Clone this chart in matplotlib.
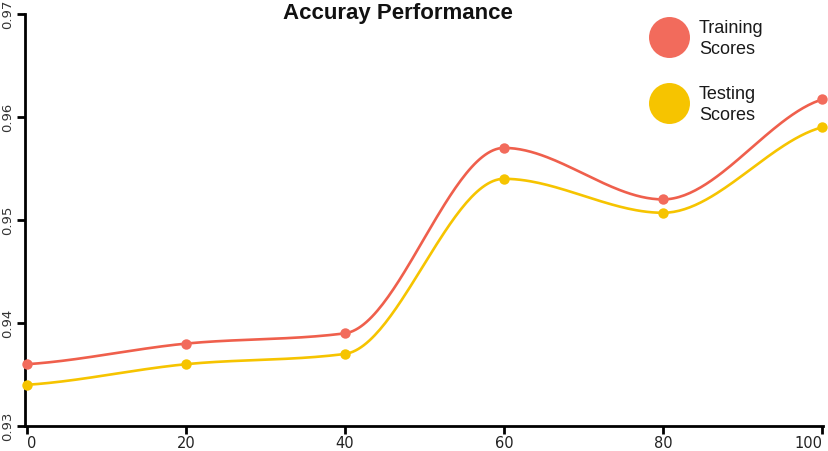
"""
Accuracy curve for training vs testing scores, smoothed lines with
point markers and a big-dot legend in the top right corner.
"""
import numpy as np
import matplotlib
matplotlib.use("Agg")
import matplotlib.pyplot as plt

epochs = [0, 20, 40, 60, 80, 100]
training_scores = [0.936, 0.938, 0.939, 0.957, 0.952, 0.9617]
testing_scores = [0.934, 0.936, 0.937, 0.954, 0.9507, 0.959]

y_ticks = [0.93, 0.94, 0.95, 0.96, 0.97]
x_ticks = [0, 20, 40, 60, 80, 100]

title = "Accuray Performance"
series_labels = ["Training\nScores", "Testing\nScores"]

RED = "#EF5F4C"
RED_DOT = "#F26B5C"
YELLOW = "#F6C400"


def smooth(xs, ys, steps=60):
    """Monotone-style cubic through the points (flat at local extremes)."""
    xs = np.asarray(xs, float)
    ys = np.asarray(ys, float)
    h = np.diff(xs)
    s = np.diff(ys) / h
    t = np.zeros_like(ys)
    for i in range(1, len(xs) - 1):
        s0, s1 = s[i - 1], s[i]
        p = (s0 * h[i] + s1 * h[i - 1]) / (h[i - 1] + h[i])
        t[i] = (np.sign(s0) + np.sign(s1)) * min(abs(s0), abs(s1), 0.5 * abs(p))
    t[0] = 0.5 * s[0]
    t[-1] = 0.5 * s[-1]

    out_x, out_y = [], []
    u = np.linspace(0, 1, steps)
    for i in range(len(xs) - 1):
        h00 = 2 * u**3 - 3 * u**2 + 1
        h10 = u**3 - 2 * u**2 + u
        h01 = -2 * u**3 + 3 * u**2
        h11 = u**3 - u**2
        seg_y = h00 * ys[i] + h10 * h[i] * t[i] + h01 * ys[i + 1] + h11 * h[i] * t[i + 1]
        out_x.extend(xs[i] + u * h[i])
        out_y.extend(seg_y)
    return np.array(out_x), np.array(out_y)


W, H = 829, 451
fig = plt.figure(figsize=(W / 100, H / 100), dpi=100)
ax = fig.add_axes([25 / W, 1 - 426 / H, (823 - 25) / W, (426 - 14) / H])

for scores, line_c, dot_c in [(training_scores, RED, RED_DOT), (testing_scores, YELLOW, YELLOW)]:
    sx, sy = smooth(epochs, scores)
    ax.plot(sx, sy, color=line_c, lw=1.9, solid_capstyle="round", zorder=2)
    ax.plot(epochs, scores, "o", color=dot_c, ms=7.5, mec="none", zorder=3, clip_on=False)

ax.set_xlim(-0.25, 100.13)
ax.set_ylim(0.93, 0.97)

for side in ["top", "right"]:
    ax.spines[side].set_visible(False)
for side in ["left", "bottom"]:
    ax.spines[side].set_linewidth(2)
    ax.spines[side].set_color("black")

ax.set_xticks(x_ticks)
ax.set_xticklabels([str(v) for v in x_ticks], fontsize=10.5, color="#222222")
ax.set_yticks(y_ticks)
ax.set_yticklabels([f"{v:.2f}" for v in y_ticks], fontsize=9.5, color="#333333",
                   rotation=90, va="center")
ax.tick_params(axis="both", direction="out", length=6, width=2, color="black")
ax.tick_params(axis="x", pad=1.5)
ax.tick_params(axis="y", pad=2)
xlabels = ax.get_xticklabels()
xlabels[0].set_ha("left")
xlabels[-1].set_ha("right")

fig.text(398 / W, 1 - 13 / H, title, ha="center", va="center",
         fontsize=16, fontweight="bold", family="Liberation Sans", color="#111111")

# legend drawn by hand: big dots with two-line labels
legend_rows = [(37, RED_DOT), (103, YELLOW)]
for (cy, c), label in zip(legend_rows, series_labels):
    ax.plot([669 / W], [1 - cy / H], "o", color=c, ms=29.5, mec="none",
            transform=fig.transFigure, clip_on=False)
    fig.text(699 / W, 1 - (cy + 2) / H, label, ha="left", va="center",
             fontsize=13, family="Liberation Sans", color="#1a1a1a", linespacing=1.35)

fig.savefig("out.png", dpi=100)
